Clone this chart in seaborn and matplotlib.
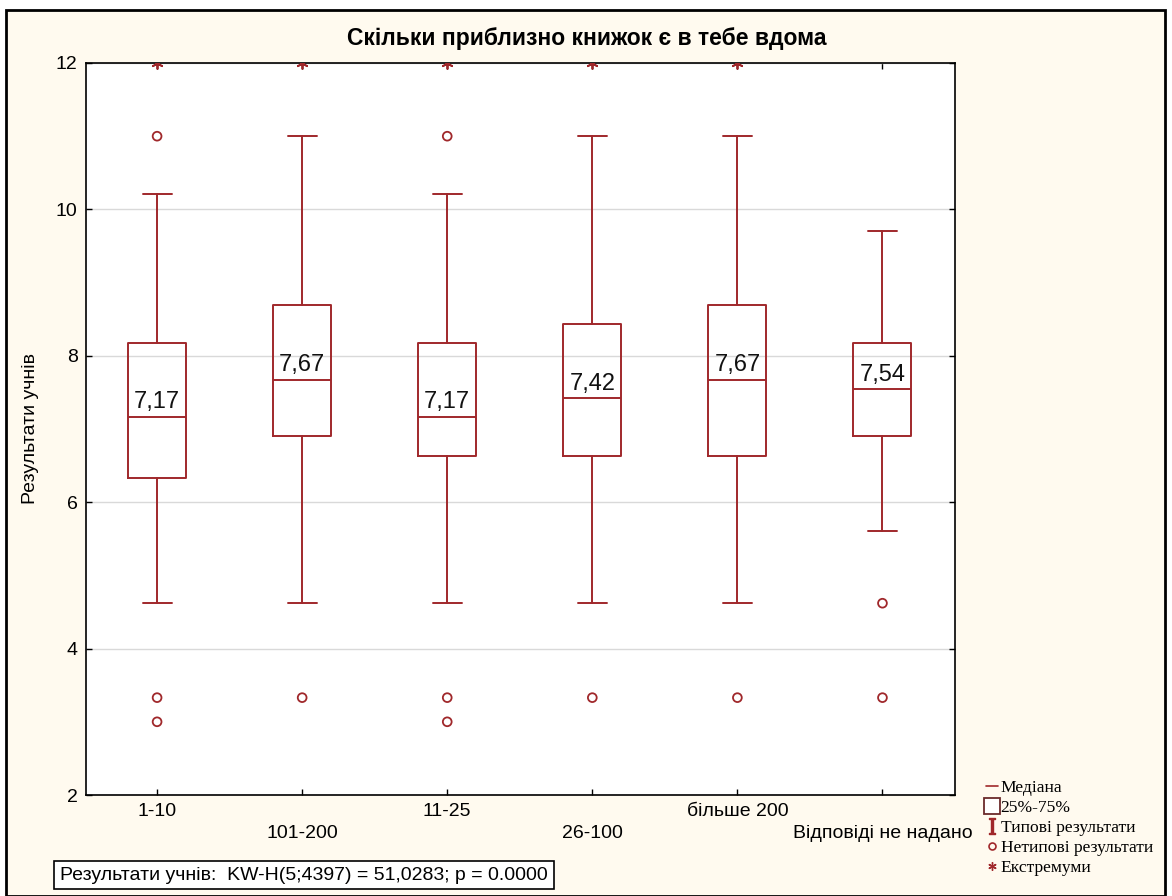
import matplotlib
matplotlib.use("Agg")
import matplotlib.pyplot as plt
from matplotlib.lines import Line2D
from matplotlib.patches import Rectangle
import seaborn as sns
import pandas as pd

categories = ["1-10", "101-200", "11-25", "26-100", "більше 200", "Відповіді не надано"]
medians = [7.17, 7.67, 7.17, 7.42, 7.67, 7.54]
q1 = [6.33, 6.90, 6.63, 6.63, 6.63, 6.90]
q3 = [8.17, 8.70, 8.17, 8.43, 8.70, 8.17]
whisker_low = [4.62, 4.62, 4.62, 4.62, 4.62, 5.60]
whisker_high = [10.21, 11.00, 10.21, 11.00, 11.00, 9.70]
outliers = [[11.0, 3.33, 3.0], [3.33], [11.0, 3.33, 3.0], [3.33], [3.33], [4.62, 3.33]]
extremes = [[12.0], [12.0], [12.0], [12.0], [12.0], []]
yticks = [2, 4, 6, 8, 10, 12]

sns.set_style("white")
plt.rcParams["font.family"] = ["Liberation Sans", "DejaVu Sans"]
plt.rcParams["mathtext.fontset"] = "dejavuserif"
plt.rcParams["text.color"] = "black"
plt.rcParams["axes.labelcolor"] = "black"
plt.rcParams["xtick.color"] = "black"
plt.rcParams["ytick.color"] = "black"

RED = "#A0282B"
CREAM = "#FFFAEF"

fig = plt.figure(figsize=(11.72, 8.96), dpi=100)
fig.patch.set_facecolor("white")
fig.patches.append(Rectangle((6 / 1172, 0), 1159 / 1172, 1 - 10 / 896,
                             transform=fig.transFigure, facecolor=CREAM,
                             edgecolor="black", linewidth=2, zorder=-10))

ax = fig.add_axes([86 / 1172, 1 - 795 / 896, (955 - 86) / 1172, (795 - 63) / 896])
ax.set_facecolor("white")

stats = []
for i in range(len(categories)):
    stats.append(dict(med=medians[i], q1=q1[i], q3=q3[i],
                      whislo=whisker_low[i], whishi=whisker_high[i], fliers=[]))
pos = list(range(len(categories)))
ax.bxp(stats, positions=pos, widths=0.4, capwidths=0.2, showfliers=False,
       boxprops=dict(color=RED, linewidth=1.4),
       whiskerprops=dict(color=RED, linewidth=1.4),
       capprops=dict(color=RED, linewidth=1.4),
       medianprops=dict(color=RED, linewidth=1.4),
       patch_artist=False, zorder=3)

out_rows = [(i, v) for i, vals in enumerate(outliers) for v in vals]
ext_rows = [(i, v) for i, vals in enumerate(extremes) for v in vals]
df_out = pd.DataFrame(out_rows, columns=["x", "y"])
df_ext = pd.DataFrame(ext_rows, columns=["x", "y"])
sns.scatterplot(data=df_out, x="x", y="y", ax=ax, marker="o", s=40,
                facecolor="none", edgecolor=RED, linewidth=1.3, zorder=4, legend=False)
sns.scatterplot(data=df_ext, x="x", y="y", ax=ax, marker=(6, 2, 0), s=60,
                color=RED, linewidth=1.3, zorder=4, legend=False)

for i, m in enumerate(medians):
    ax.text(i, m + 0.05, f"{m:.2f}".replace(".", ","), ha="center", va="bottom",
            fontsize=17, color="#111111", zorder=5)

ax.set_xlim(-0.49, 5.5)
ax.set_ylim(2, 12)
ax.set_yticks(yticks)
ax.set_yticklabels([str(t) for t in yticks], fontsize=14)
ax.set_xticks(pos)
ax.set_xticklabels([c if i % 2 == 0 else "\n" + c for i, c in enumerate(categories)],
                   fontsize=14, linespacing=1.35)
ax.set_xlabel("")
ax.set_ylabel("Результати учнів", fontsize=14, labelpad=12)
ax.grid(axis="y", color="#d9d9d9", linewidth=1, zorder=0)
ax.set_axisbelow(True)
ax.tick_params(direction="in", length=4, width=1, top=True, right=True,
               bottom=True, left=True, pad=6, colors="black")
for sp in ax.spines.values():
    sp.set_visible(True)
    sp.set_color("black")
    sp.set_linewidth(1.2)

fig.text(587 / 1172, 1 - 38 / 896, "Скільки приблизно книжок є в тебе вдома",
         ha="center", va="center", fontsize=16.5, fontweight="bold", color="black")

fig.text(60 / 1172, 1 - 875 / 896, "Результати учнів:  KW-H(5;4397) = 51,0283; p = 0.0000",
         ha="left", va="center", fontsize=14, color="black",
         bbox=dict(boxstyle="square,pad=0.3", facecolor="white", edgecolor="black", linewidth=1.2))

handles = [
    Line2D([], [], color=RED, linewidth=1.2, marker=None),
    Line2D([], [], linestyle="none", marker="s", markersize=11, markerfacecolor="white",
           markeredgecolor="#6b2a2a", markeredgewidth=1.3),
    Line2D([], [], linestyle="none", marker="$\\mathrm{I}$", markersize=11, color=RED),
    Line2D([], [], linestyle="none", marker="o", markersize=5, markerfacecolor="none",
           markeredgecolor=RED, markeredgewidth=1.2),
    Line2D([], [], linestyle="none", marker=(6, 2, 0), markersize=6, color=RED,
           markeredgewidth=1),
]
labels = ["Медіана", "25%-75%", "Типові результати", "Нетипові результати", "Екстремуми"]
leg = fig.legend(handles, labels, loc="upper left", bbox_to_anchor=(970 / 1172, 1 - 764 / 896),
                 frameon=False, handlelength=0.7, handletextpad=0.15, labelspacing=0.22,
                 prop={"family": "Liberation Serif", "size": 12.6})
for t in leg.get_texts():
    t.set_color("black")

fig.savefig("out.png", dpi=100, facecolor=fig.get_facecolor())
